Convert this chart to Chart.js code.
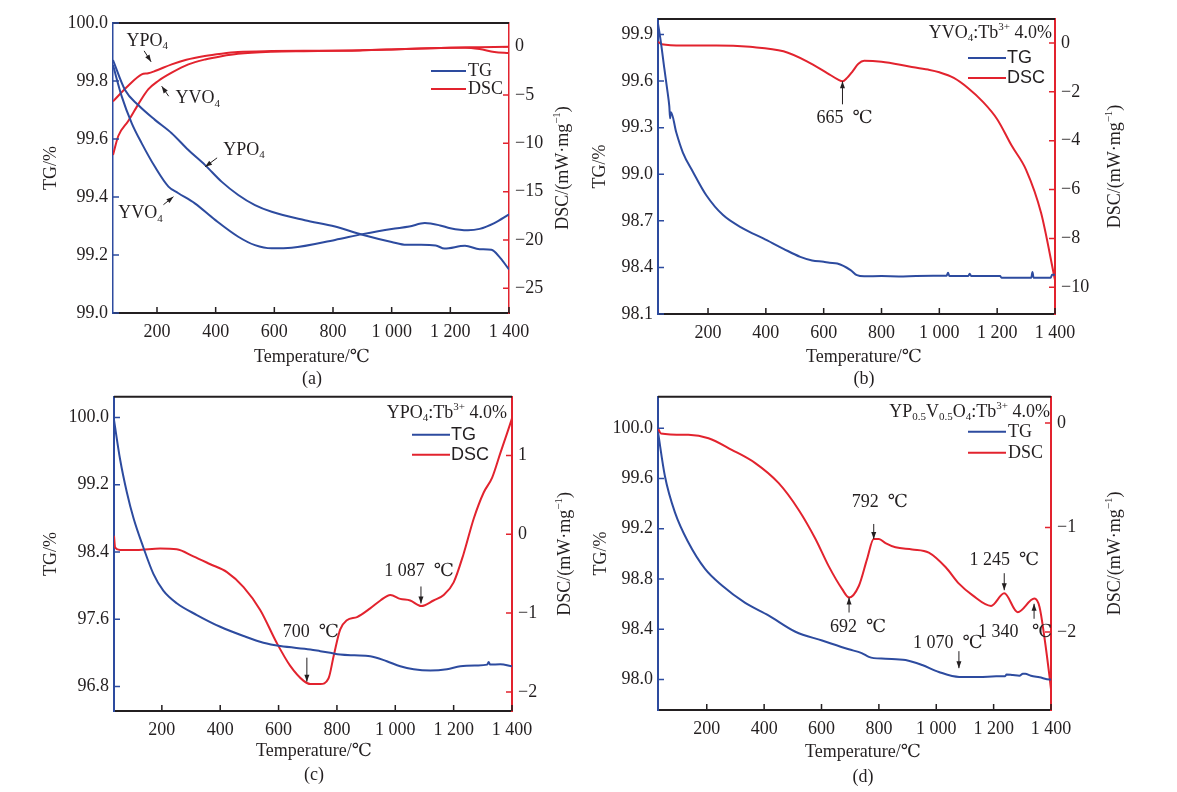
<!DOCTYPE html>
<html>
<head>
<meta charset="utf-8">
<script src="https://cdn.jsdelivr.net/npm/chart.js@4.4.1/dist/chart.umd.min.js"></script>
<style>
  body { margin: 0; background: #fff; width: 1177px; height: 792px; position: relative; overflow: hidden; }
  canvas { position: absolute; }
</style>
</head>
<body>
<canvas id="pa" width="590" height="390" style="left:0;top:0"></canvas>
<canvas id="pb" width="589" height="390" style="left:588px;top:0"></canvas>
<canvas id="pc" width="590" height="412" style="left:0;top:380px"></canvas>
<canvas id="pd" width="589" height="412" style="left:588px;top:380px"></canvas>
<script>
// ---- data (temperature in degC) ----
const xTicks = [200, 400, 600, 800, 1000, 1200, 1400];

// (a) YPO4 / YVO4
const aTgPO4T = [50, 91, 136, 193, 250, 307, 364, 420, 477, 534, 591, 704, 807, 900, 1000, 1050, 1100, 1150, 1180, 1250, 1300, 1340, 1370, 1400];
const aTgPO4 = [99.872, 99.769, 99.717, 99.666, 99.62, 99.562, 99.51, 99.453, 99.407, 99.372, 99.349, 99.32, 99.298, 99.27, 99.245, 99.235, 99.235, 99.233, 99.222, 99.232, 99.22, 99.218, 99.19, 99.15];
const aTgVO4T = [50, 80, 114, 148, 193, 239, 273, 329, 398, 477, 534, 591, 659, 807, 900, 1000, 1060, 1113, 1165, 1200, 1260, 1300, 1350, 1400];
const aTgVO4 = [99.855, 99.746, 99.654, 99.585, 99.504, 99.436, 99.413, 99.378, 99.321, 99.263, 99.234, 99.223, 99.225, 99.252, 99.272, 99.29, 99.298, 99.31, 99.302, 99.292, 99.285, 99.29, 99.31, 99.34];
const aDscPO4T = [50, 100, 148, 170, 193, 250, 300, 363, 420, 476, 592, 700, 807, 900, 1000, 1100, 1200, 1250, 1300, 1350, 1400];
const aDscPO4 = [-5.66, -4.1, -2.87, -2.75, -2.52, -1.83, -1.35, -0.96, -0.72, -0.55, -0.45, -0.42, -0.42, -0.38, -0.3, -0.2, -0.12, -0.1, -0.25, -0.55, -0.65];
const aDscVO4T = [50, 68, 102, 136, 170, 204, 250, 307, 364, 420, 476, 592, 700, 800, 900, 1000, 1100, 1200, 1300, 1400];
const aDscVO4 = [-11.2, -9.24, -7.69, -5.97, -4.42, -3.55, -2.69, -1.83, -1.32, -0.98, -0.73, -0.52, -0.46, -0.43, -0.37, -0.28, -0.18, -0.1, -0.05, 0.0];
const aTgTicks = [99.0, 99.2, 99.4, 99.6, 99.8, 100.0];
const aDscTicks = [-25, -20, -15, -10, -5, 0];

// (b) YVO4:Tb3+ 4.0%
const bTgT = [27, 37, 49, 60, 66, 69, 72, 90, 113, 148, 194, 252, 322, 391, 461, 519, 560, 600, 620, 647, 693, 715, 740, 800, 860, 920, 980, 1025, 1030, 1035, 1100, 1105, 1110, 1160, 1210, 1215, 1300, 1318, 1322, 1326, 1385, 1390, 1400];
const bTg = [99.97, 99.85, 99.68, 99.53, 99.44, 99.36, 99.40, 99.27, 99.14, 99.015, 98.865, 98.737, 98.65, 98.587, 98.52, 98.468, 98.445, 98.436, 98.43, 98.425, 98.383, 98.35, 98.343, 98.344, 98.342, 98.345, 98.346, 98.346, 98.365, 98.344, 98.345, 98.36, 98.345, 98.345, 98.345, 98.333, 98.333, 98.333, 98.37, 98.333, 98.333, 98.353, 98.353];
const bDscT = [28, 40, 113, 229, 345, 461, 542, 612, 650, 665, 681, 700, 720, 740, 800, 896, 961, 1000, 1050, 1100, 1150, 1200, 1250, 1300, 1352, 1400];
const bDsc = [0.05, -0.05, -0.1, -0.1, -0.16, -0.34, -0.75, -1.23, -1.5, -1.57, -1.43, -1.16, -0.85, -0.73, -0.77, -0.96, -1.09, -1.2, -1.43, -1.85, -2.4, -3.12, -4.2, -5.19, -6.96, -9.7];
const bTgTicks = [98.1, 98.4, 98.7, 99.0, 99.3, 99.6, 99.9];
const bDscTicks = [-10, -8, -6, -4, -2, 0];

// (c) YPO4:Tb3+ 4.0%
const cTgT = [36, 57, 80, 103, 137, 171, 205, 251, 320, 400, 480, 548, 606, 709, 743, 777, 811, 860, 914, 971, 1017, 1063, 1120, 1177, 1223, 1280, 1315, 1320, 1325, 1360, 1400];
const cTg = [99.97, 99.50, 99.11, 98.80, 98.45, 98.14, 97.94, 97.79, 97.65, 97.51, 97.40, 97.32, 97.28, 97.24, 97.22, 97.20, 97.18, 97.17, 97.16, 97.10, 97.04, 97.005, 96.99, 97.005, 97.04, 97.05, 97.06, 97.09, 97.06, 97.065, 97.04];
const cDscT = [36, 40, 57, 114, 194, 251, 308, 366, 423, 480, 537, 594, 640, 686, 709, 743, 771, 789, 811, 834, 869, 914, 949, 983, 1017, 1051, 1089, 1131, 1166, 1200, 1234, 1269, 1303, 1332, 1360, 1383, 1400];
const cDsc = [-0.02, -0.17, -0.20, -0.20, -0.18, -0.19, -0.28, -0.38, -0.48, -0.67, -0.96, -1.38, -1.67, -1.86, -1.90, -1.90, -1.83, -1.54, -1.21, -1.09, -1.05, -0.94, -0.84, -0.77, -0.82, -0.84, -0.91, -0.84, -0.77, -0.61, -0.25, 0.20, 0.53, 0.72, 1.03, 1.28, 1.47];
const cTgTicks = [96.8, 97.6, 98.4, 99.2, 100.0];
const cDscTicks = [-2, -1, 0, 1];

// (d) YP0.5V0.5O4:Tb3+ 4.0%
const dTgT = [30, 54, 89, 136, 194, 252, 334, 415, 509, 602, 695, 740, 765, 782, 823, 893, 951, 1009, 1080, 1150, 1209, 1240, 1245, 1267, 1290, 1302, 1310, 1330, 1360, 1395, 1400];
const dTg = [99.97, 99.62, 99.33, 99.09, 98.88, 98.75, 98.61, 98.51, 98.38, 98.31, 98.24, 98.21, 98.18, 98.17, 98.165, 98.155, 98.115, 98.06, 98.02, 98.02, 98.025, 98.025, 98.04, 98.035, 98.03, 98.045, 98.045, 98.03, 98.017, 98.0, 98.0];
const dDscT = [30, 40, 136, 206, 287, 369, 450, 520, 579, 625, 672, 696, 730, 759, 782, 800, 823, 858, 916, 974, 1033, 1080, 1127, 1191, 1237, 1284, 1342, 1360, 1377, 1395, 1400];
const dDsc = [-0.05, -0.1, -0.114, -0.146, -0.257, -0.384, -0.574, -0.83, -1.11, -1.37, -1.59, -1.67, -1.56, -1.30, -1.11, -1.11, -1.15, -1.19, -1.21, -1.24, -1.38, -1.54, -1.65, -1.75, -1.63, -1.81, -1.68, -1.76, -2.05, -2.43, -2.55];
const dTgTicks = [98.0, 98.4, 98.8, 99.2, 99.6, 100.0];
const dDscTicks = [-2, -1, 0];

// ---- styling ----
const BLUE = '#2d4b9f', RED = '#e2232e', INK = '#231f20';
const SERIF = '"Liberation Serif", "DejaVu Serif", "Noto Sans CJK SC", serif';
const SANS = '"Liberation Sans", "DejaVu Sans", "Noto Sans CJK SC", sans-serif';

// text with _{sub} and ^{sup}
function richSegs(str) {
  const out = [];
  const re = /([_^])\{([^}]*)\}|([^_^]+)/g;
  let m;
  while ((m = re.exec(str))) {
    if (m[3]) out.push({ t: m[3], k: 0 });
    else out.push({ t: m[2], k: m[1] === '_' ? 1 : -1 });
  }
  return out;
}
function drawRich(ctx, str, x, y, size, align, family) {
  const segs = richSegs(str);
  const fontOf = k => (k ? Math.round(size * 0.62) : size) + 'px ' + family;
  let w = 0;
  segs.forEach(s => { ctx.font = fontOf(s.k); s.w = ctx.measureText(s.t).width; w += s.w; });
  let cx = align === 'right' ? x - w : align === 'center' ? x - w / 2 : x;
  ctx.textAlign = 'left';
  ctx.textBaseline = 'middle';
  segs.forEach(s => {
    ctx.font = fontOf(s.k);
    const dy = s.k === 1 ? size * 0.3 : s.k === -1 ? -size * 0.32 : 0;
    ctx.fillText(s.t, cx, y + dy);
    cx += s.w;
  });
}

const fmtT = v => v >= 1000 ? Math.floor(v / 1000) + ' ' + String(v % 1000).padStart(3, '0') : String(v);
const fmtTg = v => v.toFixed(1);
const fmtDsc = v => v < 0 ? '\u2212' + Math.abs(v) : String(v);

// frame, inward ticks, titles, legend and arrows
const decorCfg = {};
const decor = {
  id: 'decor',
  afterDraw(chart) {
    const o = decorCfg[chart.canvas.id];
    const { ctx, chartArea: a, scales } = chart;
    ctx.save();
    ctx.strokeStyle = INK; ctx.lineWidth = 2;
    ctx.beginPath(); ctx.moveTo(a.left, a.top); ctx.lineTo(a.right, a.top); ctx.stroke();

    const tick = (scale, color, fn) => {
      ctx.strokeStyle = color; ctx.lineWidth = 1.5; ctx.beginPath();
      scale.ticks.forEach(t => fn(scale.getPixelForValue(t.value)));
      ctx.stroke();
    };
    tick(scales.x, INK, p => { ctx.moveTo(p, a.bottom); ctx.lineTo(p, a.bottom - 6); });
    tick(scales.y, BLUE, p => { ctx.moveTo(a.left, p); ctx.lineTo(a.left + 6, p); });
    tick(scales.y1, RED, p => { ctx.moveTo(a.right, p); ctx.lineTo(a.right - 6, p); });

    ctx.fillStyle = INK;
    const cy = (a.top + a.bottom) / 2;
    ctx.save(); ctx.translate(o.leftX, cy); ctx.rotate(-Math.PI / 2);
    drawRich(ctx, 'TG/%', 0, 0, 18, 'center', SERIF); ctx.restore();
    ctx.save(); ctx.translate(o.rightX, cy); ctx.rotate(-Math.PI / 2);
    drawRich(ctx, 'DSC/(mW\u00B7mg^{\u22121})', 0, 0, 18, 'center', SERIF); ctx.restore();
    o.bottom.forEach((s, i) => drawRich(ctx, s, o.bottomX, o.bottomY[i], 18, 'center', SERIF));

    // legend (sample name + TG / DSC keys)
    const L = o.legend;
    if (L.sample) drawRich(ctx, L.sample, a.right + L.sx, a.top + L.sy, 18, 'right', SERIF);
    [['TG', BLUE], ['DSC', RED]].forEach(([name, col], i) => {
      const y = a.top + L.ys[i];
      ctx.strokeStyle = col; ctx.lineWidth = 2;
      ctx.beginPath(); ctx.moveTo(a.right + L.x0, y); ctx.lineTo(a.right + L.x1, y); ctx.stroke();
      ctx.fillStyle = INK;
      drawRich(ctx, name, a.right + L.tx, y, 18, 'left', L.font);
    });

    // arrows and labels
    ctx.fillStyle = INK;
    o.notes.forEach(n => {
      const hx = scales.x.getPixelForValue(n.x), hy = scales[n.axis].getPixelForValue(n.y);
      const tx = hx + n.tail[0], ty = hy + n.tail[1];
      ctx.strokeStyle = INK; ctx.lineWidth = 1;
      ctx.beginPath(); ctx.moveTo(tx, ty); ctx.lineTo(hx, hy); ctx.stroke();
      const ang = Math.atan2(hy - ty, hx - tx), c = Math.cos(ang), s = Math.sin(ang);
      ctx.beginPath(); ctx.moveTo(hx, hy);
      ctx.lineTo(hx - 7 * c + 2.5 * s, hy - 7 * s - 2.5 * c);
      ctx.lineTo(hx - 7 * c - 2.5 * s, hy - 7 * s + 2.5 * c);
      ctx.closePath(); ctx.fill();
      drawRich(ctx, n.text, hx + n.label[0], hy + n.label[1], 18, 'center', SERIF);
    });
    ctx.restore();
  }
};

function series(label, t, v, axis, color) {
  return {
    label, yAxisID: axis, data: t.map((x, i) => ({ x, y: v[i] })),
    borderColor: color, borderWidth: 2, pointRadius: 0, fill: false,
    cubicInterpolationMode: 'monotone'
  };
}

function vScale(pos, min, max, vals, fmt, color, bw, pad, width) {
  return {
    type: 'linear', position: pos, min, max,
    afterBuildTicks: s => { s.ticks = vals.map(v => ({ value: v })); },
    afterFit: s => { s.width = width; },
    grid: { drawOnChartArea: false, drawTicks: false },
    border: { color, width: bw },
    ticks: { padding: pad, color: INK, font: { family: SERIF, size: 18 }, callback: fmt, autoSkip: false }
  };
}

function makePanel(id, p) {
  decorCfg[id] = p.decor;
  new Chart(document.getElementById(id), {
    type: 'line',
    data: { datasets: p.datasets },
    options: {
      responsive: false, animation: false, events: [],
      layout: { padding: { top: p.box.T, left: 0, right: 0, bottom: 0 } },
      plugins: { legend: { display: false }, tooltip: { enabled: false } },
      scales: {
        x: {
          type: 'linear', position: 'bottom', min: p.xr[0], max: 1400,
          afterBuildTicks: s => { s.ticks = xTicks.map(v => ({ value: v })); },
          afterFit: s => { s.height = p.box.B; },
          grid: { drawOnChartArea: false, drawTicks: false },
          border: { color: INK, width: 2 },
          ticks: { padding: 8, color: INK, font: { family: SERIF, size: 18 }, callback: fmtT, maxRotation: 0, autoSkip: false }
        },
        y: vScale('left', p.tg[0], p.tg[1], p.tgTicks, fmtTg, BLUE, p.lw, 5, p.box.L),
        y1: vScale('right', p.dsc[0], p.dsc[1], p.dscTicks, fmtDsc, RED, p.rw, 6, p.box.R)
      }
    },
    plugins: [decor]
  });
}

makePanel('pa', {
  box: { L: 113, R: 81, T: 23, B: 77 }, lw: 1.5, rw: 1.5,
  xr: [50], tg: [99.0, 100.0], dsc: [-27.55, 2.45], tgTicks: aTgTicks, dscTicks: aDscTicks,
  datasets: [
    series('TG YPO4', aTgPO4T, aTgPO4, 'y', BLUE),
    series('TG YVO4', aTgVO4T, aTgVO4, 'y', BLUE),
    series('DSC YPO4', aDscPO4T, aDscPO4, 'y1', RED),
    series('DSC YVO4', aDscVO4T, aDscVO4, 'y1', RED)
  ],
  decor: {
    leftX: 51, rightX: 563, bottomX: 312, bottomY: [357, 379], bottom: ['Temperature/\u2103', '(a)'],
    legend: { sample: null, x0: -78, x1: -43, tx: -41, ys: [48, 66], font: SERIF },
    notes: [
      { x: 180, y: 99.866, axis: 'y', tail: [-7, -11], label: [-4, -21], text: 'YPO_{4}' },
      { x: 216, y: 99.782, axis: 'y', tail: [7, 10], label: [36, 12], text: 'YVO_{4}' },
      { x: 364, y: 99.504, axis: 'y', tail: [12, -9], label: [39, -17], text: 'YPO_{4}' },
      { x: 256, y: 99.401, axis: 'y', tail: [-10, 8], label: [-33, 17], text: 'YVO_{4}' }
    ]
  }
});

makePanel('pb', {
  box: { L: 70, R: 122, T: 19, B: 76 }, lw: 2, rw: 2,
  xr: [27], tg: [98.1, 100.0], dsc: [-11.09, 0.98], tgTicks: bTgTicks, dscTicks: bDscTicks,
  datasets: [series('TG', bTgT, bTg, 'y', BLUE), series('DSC', bDscT, bDsc, 'y1', RED)],
  decor: {
    leftX: 12, rightX: 527, bottomX: 276, bottomY: [357, 379], bottom: ['Temperature/\u2103', '(b)'],
    legend: { sample: 'YVO_{4}:Tb^{3+} 4.0%', sx: -3, sy: 14, x0: -87, x1: -49, tx: -48, ys: [39, 59], font: SANS },
    notes: [
      { x: 665, y: -1.57, axis: 'y1', tail: [0, 23], label: [2, 37], text: '665  \u2103' }
    ]
  }
});

makePanel('pc', {
  box: { L: 114, R: 78, T: 11, B: 81 }, lw: 2, rw: 2,
  xr: [36], tg: [96.508, 100.246], dsc: [-2.242, 1.744], tgTicks: cTgTicks, dscTicks: cDscTicks,
  datasets: [series('TG', cTgT, cTg, 'y', BLUE), series('DSC', cDscT, cDsc, 'y1', RED)],
  decor: {
    leftX: 51, rightX: 565, bottomX: 314, bottomY: [371, 395], bottom: ['Temperature/\u2103', '(c)'],
    legend: { sample: 'YPO_{4}:Tb^{3+} 4.0%', sx: -5, sy: 16, x0: -100, x1: -62, tx: -61, ys: [38, 58], font: SANS },
    notes: [
      { x: 697, y: -1.87, axis: 'y1', tail: [0, -24], label: [4, -49], text: '700  \u2103' },
      { x: 1088, y: -0.878, axis: 'y1', tail: [0, -17], label: [-2, -32], text: '1 087  \u2103' }
    ]
  }
});

makePanel('pd', {
  box: { L: 70, R: 126, T: 15, B: 82 }, lw: 2, rw: 2,
  xr: [30], tg: [97.757, 100.25], dsc: [-2.746, 0.25], tgTicks: dTgTicks, dscTicks: dDscTicks,
  datasets: [series('TG', dTgT, dTg, 'y', BLUE), series('DSC', dDscT, dDsc, 'y1', RED)],
  decor: {
    leftX: 13, rightX: 527, bottomX: 275, bottomY: [372, 397], bottom: ['Temperature/\u2103', '(d)'],
    legend: { sample: 'YP_{0.5}V_{0.5}O_{4}:Tb^{3+} 4.0%', sx: -1, sy: 15, x0: -83, x1: -45, tx: -43, ys: [35, 56], font: SERIF },
    notes: [
      { x: 782, y: -1.11, axis: 'y1', tail: [0, -15], label: [6, -37], text: '792  \u2103' },
      { x: 696, y: -1.67, axis: 'y1', tail: [0, 15], label: [9, 30], text: '692  \u2103' },
      { x: 1237, y: -1.60, axis: 'y1', tail: [0, -17], label: [0, -30], text: '1 245  \u2103' },
      { x: 1341, y: -1.73, axis: 'y1', tail: [0, 15], label: [-19, 28], text: '1 340   \u2103' },
      { x: 1079, y: 98.09, axis: 'y', tail: [0, -17], label: [-11, -25], text: '1 070  \u2103' }
    ]
  }
});
</script>
</body>
</html>
